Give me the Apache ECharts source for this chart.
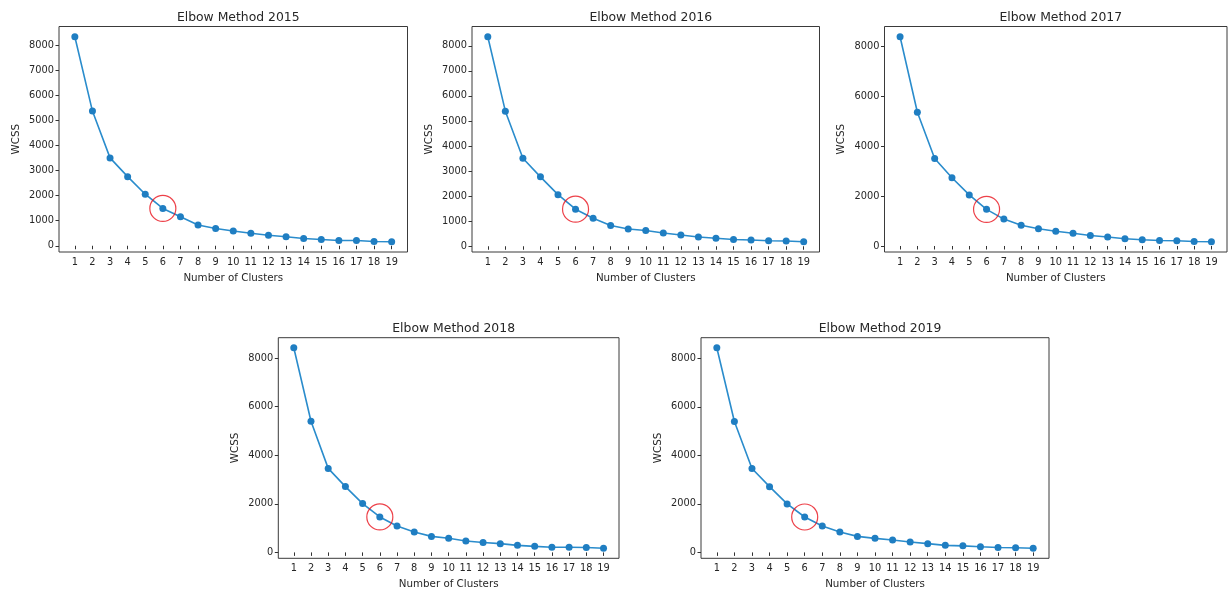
<!DOCTYPE html>
<html>
<head>
<meta charset="utf-8">
<script src="https://cdn.jsdelivr.net/npm/echarts@6/dist/echarts.min.js"></script>
<style>
html,body{margin:0;padding:0;background:#fff;}
#chart{width:1230px;height:591px;}
</style>
</head>
<body>
<div id="chart"></div>
<script>
// ---- data ----
const clusters = [1,2,3,4,5,6,7,8,9,10,11,12,13,14,15,16,17,18,19];
const titles = ["Elbow Method 2015","Elbow Method 2016","Elbow Method 2017","Elbow Method 2018","Elbow Method 2019"];
const wcss2015 = [8350,5380,3510,2760,2060,1490,1160,830,690,590,500,420,360,290,250,210,210,170,160];
const wcss2016 = [8360,5390,3510,2770,2060,1480,1120,830,690,630,530,450,370,320,270,250,220,210,180];
const wcss2017 = [8400,5370,3510,2740,2050,1470,1080,830,690,590,510,420,360,290,250,220,210,180,170];
const wcss2018 = [8430,5400,3460,2710,2010,1460,1090,840,660,580,470,410,360,290,250,210,210,200,170];
const wcss2019 = [8440,5400,3460,2710,2000,1460,1090,840,660,580,510,430,360,290,270,230,200,190,170];
const yTicksA = [0,1000,2000,3000,4000,5000,6000,7000,8000];
const yTicksB = [0,2000,4000,6000,8000];
const elbowK = 6;
const xLabel = "Number of Clusters";
const yLabel = "WCSS";

// ---- layout ----
const panels = [
  {data: wcss2015, yt: yTicksA, left: 59,  top: 26.5, w: 348.5, h: 225.5},
  {data: wcss2016, yt: yTicksA, left: 472, top: 26.5, w: 347.5, h: 225.5},
  {data: wcss2017, yt: yTicksB, left: 884.5, top: 26.5, w: 342.5, h: 225.5},
  {data: wcss2018, yt: yTicksB, left: 278.3, top: 337.7, w: 340.7, h: 220.6},
  {data: wcss2019, yt: yTicksB, left: 701, top: 337.7, w: 348, h: 220.6}
];

const txt = '#262626';
const font = 'DejaVu Sans';
const lineColor = '#1f7ec2';

const grid = [], xAxis = [], yAxis = [], series = [], title = [];
panels.forEach((p, i) => {
  grid.push({left: p.left, top: p.top, width: p.w, height: p.h, show: true,
    borderColor: '#3a3a3a', borderWidth: 1, backgroundColor: 'transparent', containLabel: false});
  title.push({text: titles[i], left: p.left + p.w/2, top: p.top - 20, textAlign: 'center',
    textStyle: {fontFamily: font, fontSize: 12.4, fontWeight: 'normal', color: txt}});
  const xr = clusters[clusters.length-1] - clusters[0];
  xAxis.push({type: 'value', gridIndex: i,
    min: clusters[0] - 0.05*xr, max: clusters[clusters.length-1] + 0.05*xr,
    name: xLabel, nameLocation: 'middle', nameGap: 21,
    nameTextStyle: {fontFamily: font, fontSize: 10.3, color: txt},
    axisLine: {show: false}, splitLine: {show: false},
    axisTick: {show: true, length: 3.5, inside: false, customValues: clusters, lineStyle: {color: '#333'}},
    axisLabel: {fontFamily: font, fontSize: 9.8, color: txt, margin: 5, customValues: clusters,
      formatter: v => String(v)}
  });
  const dmax = Math.max(...p.data), dmin = Math.min(...p.data);
  const yr = dmax - dmin;
  yAxis.push({type: 'value', gridIndex: i,
    min: dmin - 0.05*yr, max: dmax + 0.05*yr,
    name: yLabel, nameLocation: 'middle', nameGap: 38, nameRotate: 90,
    nameTextStyle: {fontFamily: font, fontSize: 10.3, color: txt},
    axisLine: {show: false}, splitLine: {show: false},
    axisTick: {show: true, length: 3.5, inside: false, customValues: p.yt, lineStyle: {color: '#333'}},
    axisLabel: {fontFamily: font, fontSize: 9.8, color: txt, margin: 5, customValues: p.yt,
      formatter: v => String(v)}
  });
  series.push({type: 'line', xAxisIndex: i, yAxisIndex: i,
    data: clusters.map((c, j) => [c, p.data[j]]),
    symbol: 'circle', symbolSize: 7, showSymbol: true,
    lineStyle: {color: '#2a8ccc', width: 1.6},
    itemStyle: {color: lineColor, borderWidth: 0},
    animation: false, silent: true, z: 2});
  const k = clusters.indexOf(elbowK);
  series.push({type: 'scatter', xAxisIndex: i, yAxisIndex: i,
    data: [[clusters[k], p.data[k]]],
    symbol: 'circle', symbolSize: 26,
    itemStyle: {color: 'rgba(0,0,0,0)', borderColor: '#e8111b', borderWidth: 1.2},
    animation: false, silent: true, z: 3});
});

const chart = echarts.init(document.getElementById('chart'), null, {renderer: 'canvas'});
chart.setOption({backgroundColor: '#fff', animation: false, title, grid, xAxis, yAxis, series});
</script>
</body>
</html>
